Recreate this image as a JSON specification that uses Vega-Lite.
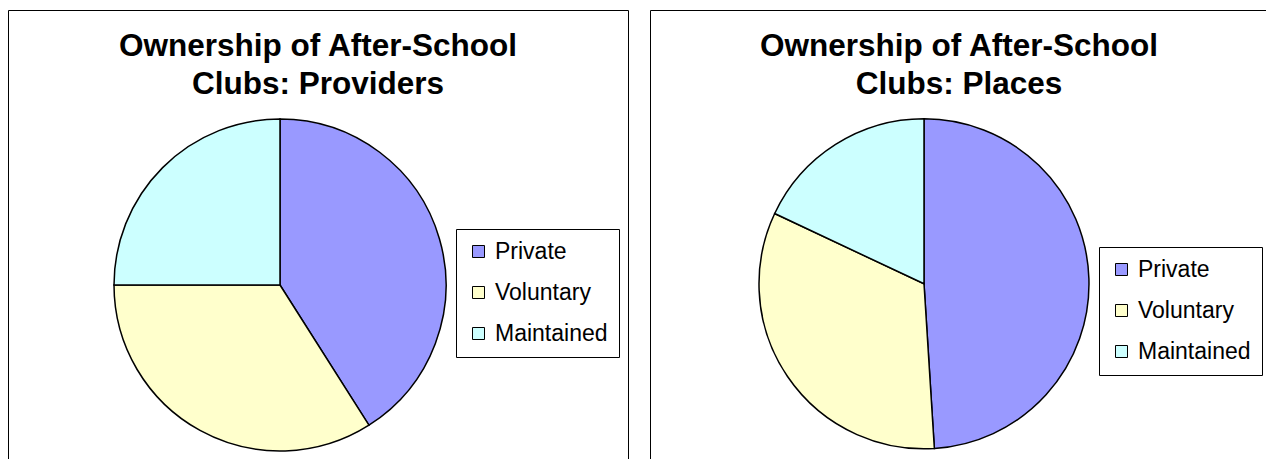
{
  "$schema": "https://vega.github.io/schema/vega-lite/v6.json",
  "background": "white",
  "padding": {"left": 7, "top": 9, "right": 0, "bottom": 0},
  "spacing": 20,
  "config": {
    "view": {"stroke": "black", "strokeWidth": 1},
    "font": "Liberation Sans",
    "title": {"font": "Liberation Sans", "fontSize": 31.5, "fontWeight": "bold", "color": "black", "lineHeight": 38, "anchor": "middle", "frame": "group", "offset": -90},
    "legend": {
      "orient": "none",
      "title": null,
      "labelFont": "Liberation Sans",
      "labelFontSize": 23,
      "labelColor": "black",
      "symbolType": "square",
      "symbolSize": 144,
      "symbolStrokeColor": "black",
      "symbolStrokeWidth": 1,
      "symbolOpacity": 1,
      "strokeColor": "black",
      "fillColor": "white",
      "padding": 11,
      "rowPadding": 17,
      "labelOffset": 5
    }
  },
  "resolve": {"scale": {"color": "independent"}, "legend": {"color": "independent"}},
  "hconcat": [
    {
      "width": 620,
      "height": 451,
      "view": {"stroke": "black", "strokeWidth": 1, "fill": "white"},
      "title": {"text": ["Ownership of After-School", "Clubs: Providers"]},
      "data": {"values": [
        {"ownership": "Private", "share": 41, "rank": 1},
        {"ownership": "Voluntary", "share": 34, "rank": 2},
        {"ownership": "Maintained", "share": 25, "rank": 3}
      ]},
      "mark": {"type": "arc", "outerRadius": 166, "xOffset": -38, "yOffset": 49.5, "stroke": "black", "strokeWidth": 1.5},
      "encoding": {
        "theta": {"field": "share", "type": "quantitative", "stack": true},
        "order": {"field": "rank", "type": "quantitative"},
        "color": {
          "field": "ownership", "type": "nominal",
          "scale": {"domain": ["Private", "Voluntary", "Maintained"], "range": ["#9999FF", "#FFFFCC", "#CCFFFF"]},
          "legend": {"legendX": 448, "legendY": 219}
        }
      }
    },
    {
      "width": 618,
      "height": 451,
      "view": {"stroke": "black", "strokeWidth": 1, "fill": "white"},
      "title": {"text": ["Ownership of After-School", "Clubs: Places"]},
      "data": {"values": [
        {"ownership": "Private", "share": 49, "rank": 1},
        {"ownership": "Voluntary", "share": 33, "rank": 2},
        {"ownership": "Maintained", "share": 18, "rank": 3}
      ]},
      "mark": {"type": "arc", "outerRadius": 165, "xOffset": -35, "yOffset": 48.3, "stroke": "black", "strokeWidth": 1.5},
      "encoding": {
        "theta": {"field": "share", "type": "quantitative", "stack": true},
        "order": {"field": "rank", "type": "quantitative"},
        "color": {
          "field": "ownership", "type": "nominal",
          "scale": {"domain": ["Private", "Voluntary", "Maintained"], "range": ["#9999FF", "#FFFFCC", "#CCFFFF"]},
          "legend": {"legendX": 449, "legendY": 237}
        }
      }
    }
  ]
}
